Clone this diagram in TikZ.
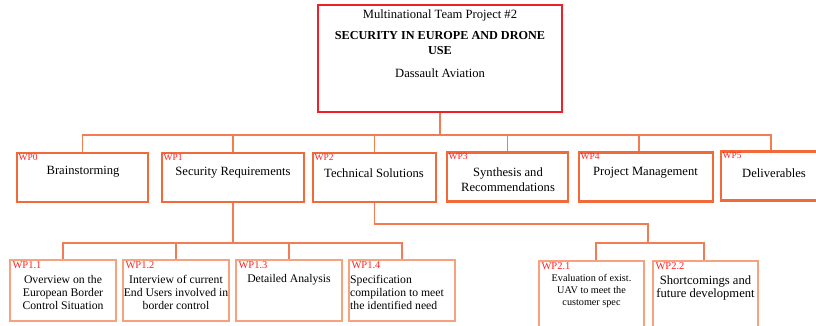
\documentclass[tikz,border=0pt]{standalone}
\usepackage{fontspec}
\setmainfont{Liberation Serif}
\definecolor{topred}{HTML}{EE2028}
\definecolor{boxor}{HTML}{F26A3A}
\definecolor{lightor}{HTML}{F7A27E}
\definecolor{lineor}{HTML}{F47C52}
\definecolor{wpred}{HTML}{FF2222}
\begin{document}
\begin{tikzpicture}[x=1pt,y=-1pt,
  topbox/.style={draw=topred,line width=1.8pt,minimum width=244pt,minimum height=107pt,inner sep=0pt},
  lvlone/.style={draw=boxor,line width=2.2pt,minimum height=49pt,inner sep=0pt},
  lvltwo/.style={draw=lightor,line width=1.3pt,inner sep=0pt},
  conn/.style={draw=lineor,line width=1.1pt},
  wplab/.style={text=wpred,font=\fontsize{9.5}{10}\selectfont,inner sep=0pt,anchor=north west},
  wplabb/.style={text=wpred,font=\fontsize{10.5}{11}\selectfont,inner sep=0pt,anchor=north west},
  txt/.style={font=\fontsize{12.6}{15}\selectfont,align=center,inner sep=0pt},
  txtb/.style={font=\fontsize{11.7}{12.7}\selectfont,align=center,inner sep=0pt},
  txtc/.style={font=\fontsize{10.2}{12}\selectfont,align=center,inner sep=0pt}
]
\useasboundingbox (0,0) rectangle (816,325);
\clip (0,0) rectangle (816,325);
% top
\node[topbox] (top) at (440,58.5) {};
\node[txt] (t1) at (440,15) {Multinational Team Project \#2};
\node[txt,font=\fontsize{12.2}{15}\selectfont\bfseries] (t2) at (440,43) {SECURITY IN EUROPE AND DRONE\\USE};
\node[txt] (t3) at (440,73) {Dassault Aviation};
% level 1
\node[lvlone,minimum width=131pt] (wp0) at (82.5,177.5) {};
\node[lvlone,minimum width=142pt] (wp1) at (233,177.5) {};
\node[lvlone,minimum width=123pt] (wp2) at (374.5,177.5) {};
\node[lvlone,minimum width=121pt] (wp3) at (507.5,177) {};
\node[lvlone,minimum width=134pt] (wp4) at (646,177) {};
\node[lvlone,minimum width=100pt] (wp5) at (771,176) {};
\foreach \n/\l in {wp0/WP0,wp1/WP1,wp2/WP2,wp3/WP3,wp4/WP4,wp5/WP5}{
  \node[wplab] (\n lab) at ([xshift=2.5pt,yshift=-2pt]\n.north west) {\l};
}
\node[txt] (wp0t) at (83,172) {Brainstorming};
\node[txt] (wp1t) at (233,173) {Security Requirements};
\node[txt] (wp2t) at (374,173) {Technical Solutions};
\node[txt] (wp3t) at (508,179.5) {Synthesis and\\Recommendations};
\node[txt] (wp4t) at (645.5,173) {Project Management};
\node[txt] (wp5t) at (774,173) {Deliverables};
% level 2
\node[lvltwo,minimum width=106pt,minimum height=61pt] (wp11) at (63,290.5) {};
\node[lvltwo,minimum width=106pt,minimum height=61pt] (wp12) at (176,290.5) {};
\node[lvltwo,minimum width=106pt,minimum height=61pt] (wp13) at (289,290.5) {};
\node[lvltwo,minimum width=106pt,minimum height=61pt] (wp14) at (402,290.5) {};
\node[lvltwo,minimum width=105pt,minimum height=80pt] (wp21) at (591.5,301) {};
\node[lvltwo,minimum width=105pt,minimum height=80pt] (wp22) at (705.5,301) {};
\foreach \n/\l in {wp11/WP1.1,wp12/WP1.2,wp13/WP1.3,wp14/WP1.4,wp21/WP2.1,wp22/WP2.2}{
  \node[wplabb] (\n lab) at ([xshift=3pt,yshift=-2pt]\n.north west) {\l};
}
\node[txtb] (wp11t) at (63,292.5) {Overview on the\\European Border\\Control Situation};
\node[txtb] (wp12t) at (176,292.5) {Interview of current\\End Users involved in\\border control};
\node[txtb] (wp13t) at (289,280) {Detailed Analysis};
\node[txtb,align=left,anchor=west] (wp14t) at (350,292.5) {Specification\\compilation to meet\\the identified need};
\node[txtc] (wp21t) at (591.5,291) {Evaluation of exist.\\UAV to meet the\\customer spec};
\node[txt,font=\fontsize{12.6}{13}\selectfont] (wp22t) at (705.5,288) {Shortcomings and\\future development};
% connectors
\coordinate (bus) at (0,135);
\coordinate (busa) at (0,243);
\coordinate (busb) at (0,224);
\draw[conn] (top.south) -- (top.south |- bus);
\draw[conn] (wp0.north) -- (wp0.north |- bus) -- (wp5.north |- bus) -- (wp5.north);
\foreach \n in {wp1,wp2,wp3}{\draw[conn] (\n.north) -- (\n.north |- bus);}
\draw[conn] ([xshift=-7pt]wp4.north) -- ([xshift=-7pt]wp4.north |- bus);
\draw[conn] (wp1.south) -- (wp1.south |- busa);
\draw[conn] (wp11.north) -- (wp11.north |- busa) -- (wp14.north |- busa) -- (wp14.north);
\draw[conn] (wp12.north) -- (wp12.north |- busa);
\draw[conn] (wp13.north) -- (wp13.north |- busa);
\coordinate (j2) at (648,224);
\draw[conn] (wp2.south) -- (wp2.south |- busb) -- (j2) -- (j2 |- busa);
\draw[conn] ([xshift=4.5pt]wp21.north) -- ([xshift=4.5pt]wp21.north |- busa) -- ([xshift=-1.5pt]wp22.north |- busa) -- ([xshift=-1.5pt]wp22.north);
\end{tikzpicture}
\end{document}
